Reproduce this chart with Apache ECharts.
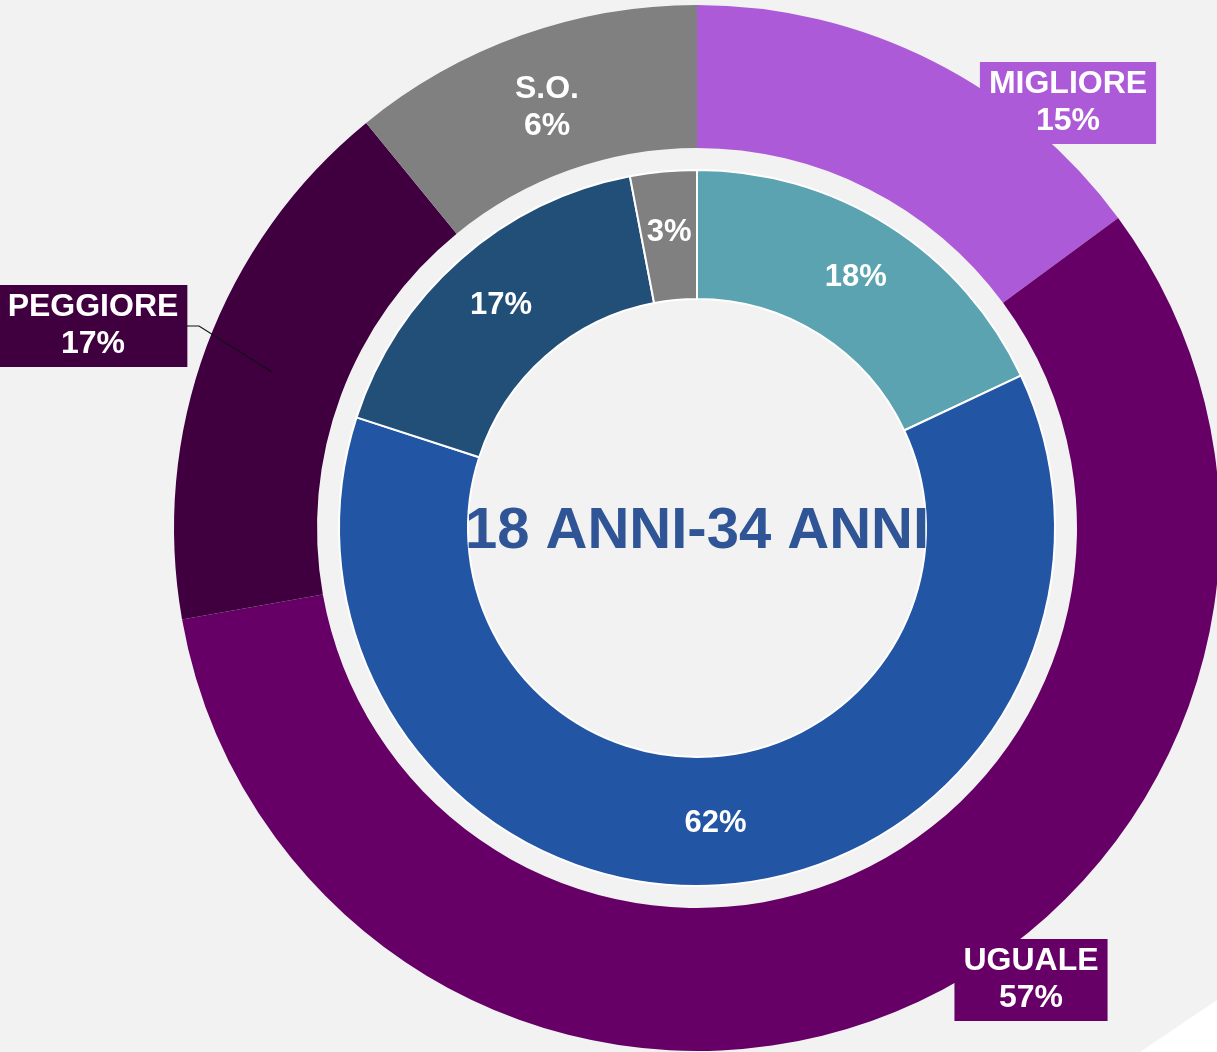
<!DOCTYPE html>
<html>
<head>
<meta charset="utf-8">
<script src="https://cdn.jsdelivr.net/npm/echarts@6/dist/echarts.min.js"></script>
<style>
  html, body { margin: 0; padding: 0; background: #f2f2f2; }
  #chart { width: 1217px; height: 1052px; }
</style>
</head>
<body>
<div id="chart"></div>
<script>
// outer ring: answers, arcs as drawn + printed percentages
var outerNames = ['MIGLIORE', 'UGUALE', 'PEGGIORE', 'S.O.'];
var outerShare = [14.9, 57.3, 16.9, 10.9];
var outerPct = [15, 57, 17, 6];
var outerColors = ['#ad5ad9', '#660066', '#400040', '#808080'];

// inner ring
var innerNames = ['MIGLIORE', 'UGUALE', 'PEGGIORE', 'S.O.'];
var innerPct = [18, 62, 17, 3];
var innerColors = ['#5ba3b0', '#2255a4', '#224f77', '#808080'];

var centerTitle = '18 ANNI-34 ANNI';

var chartDom = document.getElementById('chart');
var myChart = echarts.init(chartDom);

// where the outer labels sit (box centres)
var outerLabelAt = [[1068, 103], [1031, 980], [93, 326], [547, 108]];

var outerData = outerNames.map(function (n, i) {
    return {
        name: n,
        value: outerShare[i],
        itemStyle: { color: outerColors[i] },
        label: { backgroundColor: i === 3 ? 'transparent' : outerColors[i], padding: [4, 9] }
    };
});

var innerData = innerNames.map(function (n, i) {
    return { name: n, value: innerPct[i], itemStyle: { color: innerColors[i] } };
});

var labelFont = '"Liberation Sans", Arial, sans-serif';

option = {
    backgroundColor: '#f2f2f2',
    animation: false,
    graphic: [
        {
            type: 'polygon',
            z: 0,
            shape: { points: [[1140, 1052], [1217, 1000], [1217, 1052]] },
            style: { fill: '#ffffff' }
        },
        {
            // leader for PEGGIORE
            type: 'polyline',
            z: 10,
            shape: { points: [[272, 372], [199, 326], [187, 326]] },
            style: { stroke: '#111', lineWidth: 1.2, fill: null }
        },
        {
            type: 'text',
            x: 697,
            y: 532,
            z: 10,
            style: {
                text: centerTitle,
                font: 'bold 58px ' + labelFont,
                fill: '#2f5597',
                align: 'center',
                verticalAlign: 'middle'
            }
        }
    ],
    series: [
        {
            type: 'pie',
            center: [697, 528],
            radius: [380, 523],
            startAngle: 90,
            clockwise: true,
            avoidLabelOverlap: false,
            itemStyle: { borderWidth: 0 },
            emphasis: { disabled: true },
            label: {
                show: true,
                position: 'inside',
                color: '#fff',
                fontFamily: labelFont,
                fontWeight: 'bold',
                fontSize: 32,
                lineHeight: 37,
                align: 'center',
                formatter: function (p) {
                    return p.name + '\n' + outerPct[p.dataIndex] + '%';
                }
            },
            labelLine: { show: false },
            labelLayout: function (p) {
                var pos = outerLabelAt[p.dataIndex];
                return { x: pos[0], y: pos[1], align: 'center', verticalAlign: 'middle' };
            },
            data: outerData
        },
        {
            type: 'pie',
            center: [697, 528],
            radius: [229, 358],
            startAngle: 90,
            clockwise: true,
            emphasis: { disabled: true },
            itemStyle: { borderColor: '#ffffff', borderWidth: 2 },
            label: {
                show: true,
                position: 'inside',
                color: '#fff',
                fontFamily: labelFont,
                fontWeight: 'bold',
                fontSize: 31,
                formatter: '{c}%'
            },
            labelLine: { show: false },
            data: innerData
        }
    ]
};
myChart.setOption(option);
</script>
</body>
</html>
